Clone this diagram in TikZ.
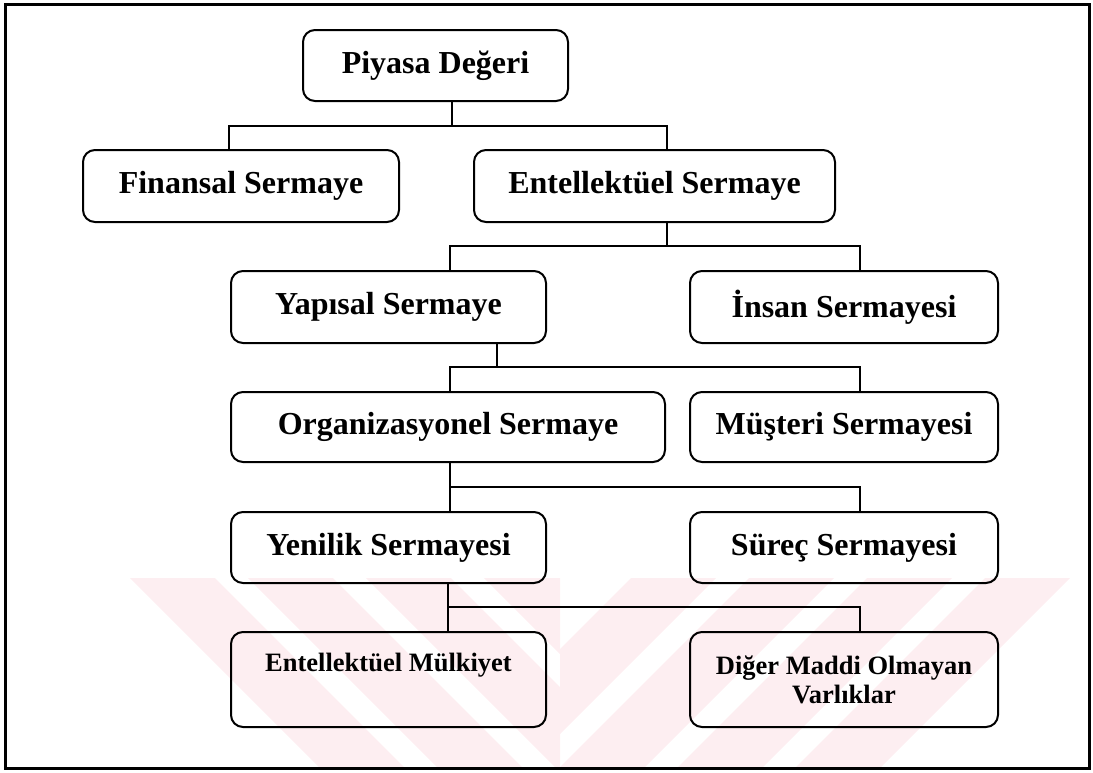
\documentclass[tikz,border=0pt]{standalone}
\usepackage{fontspec}
\setmainfont{Liberation Serif}
\definecolor{wm}{HTML}{FDEEF1}
\tikzset{
  box/.style={draw, line width=2pt, rounded corners=12pt, inner sep=0pt, align=center,
    font=\bfseries\fontsize{32}{38}\selectfont},
  smallbox/.style={box, font=\bfseries\fontsize{26.5}{29}\selectfont},
  link/.style={line width=1.8pt},
  frame/.style={line width=3pt},
}
\begin{document}
\begin{tikzpicture}[x=1pt,y=-1pt]
\useasboundingbox (0,0) rectangle (1093,772);
% faint watermark stripes
\begin{scope}
  \clip (6,578) rectangle (560,766);
  \foreach \s in {0,...,3}{
    \fill[wm] (130+118*\s,578) -- ++(85,0) -- ++(190,190) -- ++(-85,0) -- cycle;
  }
\end{scope}
\begin{scope}
  \clip (560,578) rectangle (1088,766);
  \foreach \s in {0,...,3}{
    \fill[wm] (1070-118*\s,578) -- ++(-85,0) -- ++(-190,190) -- ++(85,0) -- cycle;
  }
\end{scope}
% frame
\draw[frame] (5,4) rectangle (1089,768);
% boxes
\node[box, minimum width=265pt, minimum height=71pt] (pd) at (435.5,65.5) {Piyasa Değeri};
\node[box, minimum width=316pt, minimum height=72pt] (fs) at (241,186) {Finansal Sermaye};
\node[box, minimum width=361pt, minimum height=72pt] (es) at (654.5,186) {Entellektüel Sermaye};
\node[box, minimum width=315pt, minimum height=72pt] (ys) at (388.5,307) {Yapısal Sermaye};
\node[box, minimum width=308pt, minimum height=72pt] (is) at (844,307) {İnsan Sermayesi};
\node[box, minimum width=434pt, minimum height=70pt] (os) at (448,427) {Organizasyonel Sermaye};
\node[box, minimum width=308pt, minimum height=70pt] (ms) at (844,427) {Müşteri Sermayesi};
\node[box, minimum width=315pt, minimum height=71pt] (yn) at (388.5,547.5) {Yenilik Sermayesi};
\node[box, minimum width=308pt, minimum height=71pt] (sr) at (844,547.5) {Süreç Sermayesi};
\node[smallbox, minimum width=315pt, minimum height=95pt] (em) at (388.5,679.5) {Entellektüel Mülkiyet\\\phantom{Xy}};
\node[smallbox, minimum width=308pt, minimum height=95pt] (dm) at (844,679.5) {Diğer Maddi Olmayan\\Varlıklar};
% connectors
\coordinate (a0) at (452,126);
\coordinate (a1) at (229,126);
\coordinate (a2) at (667,126);
\draw[link] (pd.south -| a0) -- (a0);
\draw[link] (fs.north -| a1) -- (a1) -- (a2) -- (es.north -| a2);
\coordinate (b0) at (667,246);
\coordinate (b1) at (450,246);
\coordinate (b2) at (860,246);
\draw[link] (es.south -| b0) -- (b0);
\draw[link] (ys.north -| b1) -- (b1) -- (b2) -- (is.north -| b2);
\coordinate (c0) at (497,367);
\coordinate (c1) at (450,367);
\coordinate (c2) at (860,367);
\draw[link] (ys.south -| c0) -- (c0);
\draw[link] (os.north -| c1) -- (c1) -- (c2) -- (ms.north -| c2);
\coordinate (d1) at (450,487);
\coordinate (d2) at (860,487);
\draw[link] (os.south -| d1) -- (yn.north -| d1);
\draw[link] (d1) -- (d2) -- (sr.north -| d2);
\coordinate (e1) at (448,607);
\coordinate (e2) at (860,607);
\draw[link] (yn.south -| e1) -- (em.north -| e1);
\draw[link] (e1) -- (e2) -- (dm.north -| e2);
\end{tikzpicture}
\end{document}
